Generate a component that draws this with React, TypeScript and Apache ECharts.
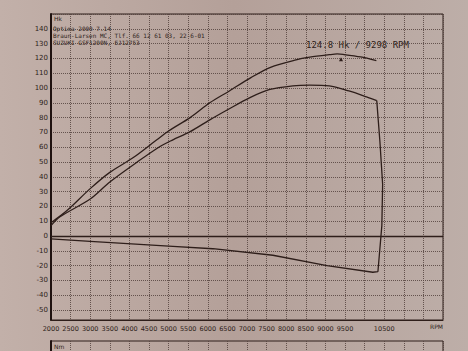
import React, { useEffect, useRef } from 'react';
import * as echarts from 'echarts';

// X axis tick labels (RPM) that are printed on the sheet
const rpmLabels = [2000, 2500, 3000, 3500, 4000, 4500, 5000, 5500, 6000, 6500, 7000, 7500, 8000, 8500, 9000, 9500, 10500];

// Engine power (upper curve), Hk
const engineRpm = [2000, 2400, 3000, 3500, 4100, 4700, 5000, 5550, 6050, 6550, 7100, 7600, 8250, 8600, 9100, 9300, 9450, 9900, 10300];
const engineHk = [9, 17, 32, 43, 53, 65, 71, 80, 90, 98, 107, 114, 119, 120.8, 122.5, 123, 122.7, 121, 118.5];

// Wheel power (lower curve), Hk
const wheelRpm = [2000, 2230, 3000, 3500, 4200, 4780, 5110, 5550, 6050, 6550, 7075, 7585, 8170, 8600, 9100, 9600, 10050, 10310];
const wheelHk = [7, 13, 25, 36.5, 50, 60.5, 65, 70.5, 78.5, 86, 93.5, 99, 101.5, 102, 101.5, 98, 94, 91.5];

// Drop at end of run
const dropRpm = [10390, 10460, 10440, 10340];
const dropHk = [64, 35, 7, -24];

// Loss (coast-down) curve, Hk
const lossRpm = [10210, 9040, 7660, 6130, 5110, 3000, 2000];
const lossHk = [-24.5, -20, -13, -8.6, -7, -3.6, -2];

const peakHk = 124.8;
const peakRpm = 9298;

const ink = '#2e1e1a';
const gridInk = '#55433e';

export default function App() {
  const ref = useRef<HTMLDivElement>(null);
  useEffect(() => {
    if (!ref.current) return;
    const chart = echarts.init(ref.current, null, { renderer: 'svg' });
    const zip = (a: number[], b: number[]) => a.map((v, i) => [v, b[i]]);
    const wheel = zip(wheelRpm, wheelHk);
    const tail = [wheel[wheel.length - 1], ...zip(dropRpm, dropHk), ...zip(lossRpm, lossHk)];
    const split = { show: true, lineStyle: { color: gridInk, type: [1, 1] as any, width: 1, opacity: 0.85 } };
    const xBase = {
      type: 'value' as const,
      min: 2000,
      max: 12000,
      interval: 500,
      axisTick: { show: false },
      splitLine: split,
    };
    const lineSt = { color: ink, width: 1.3 };
    chart.setOption({
      animation: false,
      backgroundColor: {
        type: 'linear', x: 0, y: 0, x2: 1, y2: 0,
        colorStops: [
          { offset: 0, color: '#c2b0a9' },
          { offset: 0.5, color: '#b4a099' },
          { offset: 1, color: '#bdaea8' },
        ],
      },
      grid: [
        { left: 51, width: 392, top: 14, height: 296 },
        { left: 51, width: 392, top: 310, height: 10 },
        { left: 51, width: 392, top: 341, height: 100 },
      ],
      xAxis: [
        { ...xBase, gridIndex: 0, axisLine: { show: false }, axisLabel: { show: false } },
        {
          ...xBase,
          gridIndex: 1,
          axisLine: { show: true, lineStyle: { color: ink, width: 1 } },
          axisLabel: {
            show: true,
            margin: 5,
            fontSize: 6.5,
            color: ink,
            fontFamily: 'DejaVu Sans',
            formatter: (v: number) => (rpmLabels.includes(v) ? String(v) : ''),
          },
        },
        { ...xBase, gridIndex: 2, axisLine: { show: false }, axisLabel: { show: false } },
      ],
      yAxis: [
        {
          type: 'value',
          gridIndex: 0,
          min: -50,
          max: 150,
          interval: 10,
          axisLine: { show: true, lineStyle: { color: '#1f1210', width: 2 } },
          axisTick: { show: false },
          axisLabel: {
            margin: 3,
            fontSize: 7,
            color: ink,
            fontFamily: 'DejaVu Sans',
            formatter: (v: number) => (v === 150 ? '' : String(v)),
          },
          splitLine: split,
        },
        {
          type: 'value',
          gridIndex: 1,
          min: 0,
          max: 1,
          axisLine: { show: true, lineStyle: { color: '#1f1210', width: 2 } },
          axisTick: { show: false },
          axisLabel: { show: false },
          splitLine: { show: false },
        },
        {
          type: 'value',
          gridIndex: 2,
          min: 0,
          max: 100,
          interval: 10,
          axisLine: { show: true, lineStyle: { color: '#1f1210', width: 2 } },
          axisTick: { show: false },
          axisLabel: { show: false },
          splitLine: { show: false },
        },
      ],
      series: [
        {
          type: 'line',
          xAxisIndex: 0,
          yAxisIndex: 0,
          data: zip(engineRpm, engineHk),
          showSymbol: false,
          smooth: 0.3,
          lineStyle: lineSt,
          markLine: {
            silent: true,
            symbol: 'none',
            label: { show: false },
            lineStyle: { color: ink, type: 'solid', width: 1.3 },
            data: [{ yAxis: 0 }],
          },
          markPoint: {
            symbol: 'triangle',
            symbolSize: 4,
            itemStyle: { color: ink },
            label: { show: false },
            data: [{ coord: [peakRpm + 100, 119.5] }],
          },
        },
        {
          type: 'line',
          xAxisIndex: 0,
          yAxisIndex: 0,
          data: wheel,
          showSymbol: false,
          smooth: 0.3,
          lineStyle: lineSt,
        },
        {
          type: 'line',
          xAxisIndex: 0,
          yAxisIndex: 0,
          data: tail,
          showSymbol: false,
          smooth: false,
          lineStyle: lineSt,
        },
      ],
      graphic: [
        { type: 'rect', shape: { x: 51, y: 14, width: 392, height: 306 }, style: { fill: 'none', stroke: ink, lineWidth: 1 }, silent: true },
        { type: 'rect', shape: { x: 51, y: 341, width: 392, height: 60 }, style: { fill: 'none', stroke: ink, lineWidth: 1 }, silent: true },
        { type: 'text', x: 54, y: 15, style: { text: 'Hk', fontSize: 6, fill: ink, fontFamily: 'DejaVu Sans' } },
        { type: 'text', x: 54, y: 343, style: { text: 'Nm', fontSize: 6, fill: ink, fontFamily: 'DejaVu Sans' } },
        { type: 'text', x: 53, y: 25, style: { text: 'Optima 2000 7.14', fontSize: 6, fill: ink, fontFamily: 'DejaVu Sans Mono' } },
        { type: 'text', x: 53, y: 32, style: { text: 'Braun-Larsen MC, Tlf. 66 12 61 03, 22-6-01', fontSize: 6, fill: ink, fontFamily: 'DejaVu Sans Mono' } },
        { type: 'text', x: 53, y: 39, style: { text: 'SUZUKI GSF1200N, EJ12753', fontSize: 6, fill: ink, fontFamily: 'DejaVu Sans Mono' } },
        { type: 'text', x: 306, y: 40, style: { text: `${peakHk} Hk / ${peakRpm} RPM`, fontSize: 9, fill: ink, fontFamily: 'DejaVu Sans Mono' } },
        { type: 'text', x: 430, y: 323, style: { text: 'RPM', fontSize: 6, fill: ink, fontFamily: 'DejaVu Sans' } },
      ],
    });
    return () => chart.dispose();
  }, []);
  return (
    <div
      ref={ref}
      style={{ position: 'absolute', left: 0, top: 0, width: 468, height: 351 }}
    />
  );
}
